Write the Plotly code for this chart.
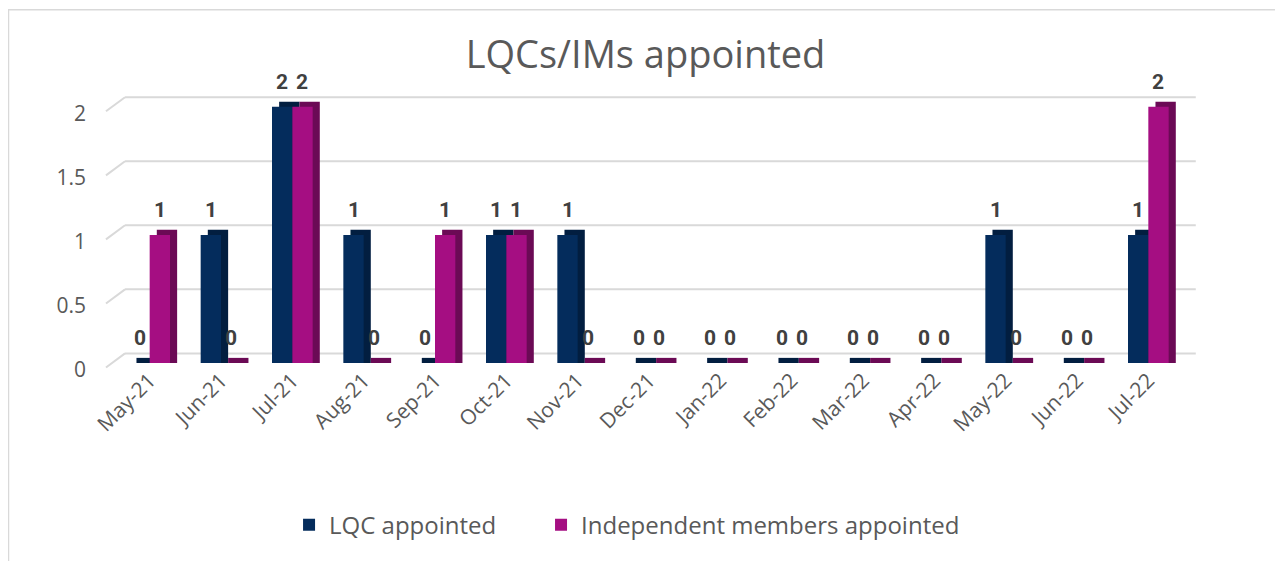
import plotly.graph_objects as go

months = ["May-21", "Jun-21", "Jul-21", "Aug-21", "Sep-21", "Oct-21", "Nov-21", "Dec-21",
          "Jan-22", "Feb-22", "Mar-22", "Apr-22", "May-22", "Jun-22", "Jul-22"]
lqc = [0, 1, 2, 1, 0, 1, 1, 0, 0, 0, 0, 0, 1, 0, 1]
ims = [1, 0, 2, 0, 1, 1, 0, 0, 0, 0, 0, 0, 0, 0, 2]
y_ticks = [0, 0.5, 1, 1.5, 2]
y_tick_text = ["0", "0.5", "1", "1.5", "2"]

NAVY, NAVY_D = "#042C5C", "#021E40"
MAG, MAG_D = "#A50E82", "#6B0A55"
GRAY = "#595959"
FONT = "Century Gothic, Open Sans, sans-serif"
LBL_FONT = "Roboto, sans-serif"

W = 0.285      # bar width (category units)
DX = 0.1       # 3-D depth, horizontal (category units)
DY = 0.04      # 3-D depth, vertical (value units)
YMAX = 2.1
GSHIFT = 0.075  # back-wall gridline lift (value units)

fig = go.Figure()
series = [("LQC appointed", lqc, NAVY, NAVY_D, -W, "legend"),
          ("Independent members appointed", ims, MAG, MAG_D, 0.0, "legend2")]
for name, vals, col, dcol, off, lg in series:
    # darker side / top faces
    fig.add_trace(go.Bar(x=months, y=[v + DY for v in vals], base=0, offset=off + DX, width=W,
                         marker=dict(color=dcol, line=dict(width=0)), showlegend=False, hoverinfo="skip"))
    # front faces
    fig.add_trace(go.Bar(x=months, y=vals, offset=off, width=W, name=name, legend=lg,
                         marker=dict(color=col, line=dict(width=0))))

for name, vals, col, dcol, off, lg in series:
    shift = -10 if off < 0 else 10
    for m, v in zip(months, vals):
        fig.add_annotation(x=m, y=v, xshift=shift, yshift=11, yanchor="bottom", text=f"<b>{v}</b>",
                           showarrow=False, font=dict(size=21, color="#404040", family=LBL_FONT))

# back-wall gridlines with a short receding segment at the left
gx0, gx1, fx = 0.0103, 1.011, -0.0075
for t in y_ticks:
    yb = (t + GSHIFT) / YMAX
    yf = (t - 0.035) / YMAX
    fig.add_shape(type="line", xref="paper", yref="paper", x0=gx0, x1=gx1, y0=yb, y1=yb,
                  line=dict(color="#D9D9D9", width=2), layer="below")
    fig.add_shape(type="line", xref="paper", yref="paper", x0=fx, x1=gx0, y0=yf, y1=yb,
                  line=dict(color="#D9D9D9", width=2), layer="below")

# chart border
fig.add_shape(type="rect", xref="paper", yref="paper", x0=-0.0986, x1=1.2, y0=-0.8, y1=1.313,
              line=dict(color="#D9D9D9", width=1.5), fillcolor="rgba(0,0,0,0)", layer="below")

leg_common = dict(orientation="h", y=-0.603, yanchor="middle", xanchor="left",
                  font=dict(size=24, color=GRAY, family=FONT), itemwidth=30, bgcolor="rgba(0,0,0,0)")

fig.update_layout(
    width=1275, height=553,
    margin=dict(l=106, r=99, t=86, b=198),
    paper_bgcolor="white", plot_bgcolor="rgba(0,0,0,0)",
    barmode="overlay",
    title=dict(text="LQCs/IMs appointed", x=0.5, xanchor="center", y=0.915, yanchor="middle",
               font=dict(size=38, color=GRAY, family=FONT)),
    font=dict(family=FONT, color=GRAY),
    xaxis=dict(tickangle=-45, tickfont=dict(size=21, color=GRAY), showgrid=False, showline=False,
               zeroline=False, ticks="", range=[-0.5, 14.5]),
    yaxis=dict(range=[0, YMAX], tickvals=y_ticks, ticktext=y_tick_text,
               tickfont=dict(size=21, color=GRAY), showgrid=False, zeroline=False, ticks="",
               ticklabelstandoff=27, ticklabelshift=7),
    legend=dict(x=0.1636, **leg_common),
    legend2=dict(x=0.3991, **leg_common),
    showlegend=True,
)
fig.update_traces(cliponaxis=False, selector=dict(type="bar"))
fig.write_html("out.html")
